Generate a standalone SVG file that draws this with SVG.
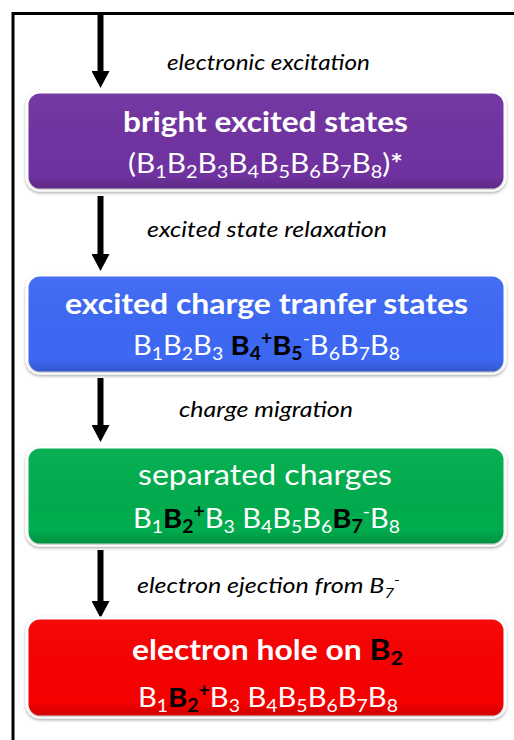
<svg xmlns="http://www.w3.org/2000/svg" width="514" height="740" viewBox="0 0 514 740">
<style>
.lbl{font-family:Lato,"Liberation Sans",sans-serif;font-style:italic;font-size:21px;fill:#000;text-anchor:middle}
.t{font-family:Lato,"Liberation Sans",sans-serif;fill:#fff;text-anchor:middle}
.tt{font-size:28px;font-weight:bold}
.tn{font-size:28px}
.l2{font-size:27px}
.b{font-weight:bold;fill:#000}
.box{stroke:#fff;stroke-width:3;filter:url(#sh)}
.conn{stroke:#000;stroke-width:6;fill:none;marker-end:url(#ah)}
</style>
<defs>
<filter id="sh" x="-5%" y="-10%" width="110%" height="130%">
<feDropShadow dx="0" dy="1.5" stdDeviation="1.5" flood-color="#000" flood-opacity="0.35"/>
</filter>
<linearGradient id="shade" x1="0" y1="0" x2="0" y2="1">
<stop offset="0" stop-color="#fff" stop-opacity="0.04"/>
<stop offset="0.85" stop-color="#000" stop-opacity="0"/>
<stop offset="1" stop-color="#000" stop-opacity="0.18"/>
</linearGradient>
<marker id="ah" markerUnits="userSpaceOnUse" markerWidth="18" markerHeight="18" refX="0" refY="9" orient="auto" viewBox="0 0 18 18">
<path d="M0,0 L17,9 L0,18 z" fill="#000"/>
</marker>
</defs>
<rect width="514" height="740" fill="#fff"/>
<g id="frame" fill="none" stroke="#000" stroke-width="3">
<path d="M13,740 V13.5 H514"/>
</g>
<g id="connectors">
<line class="conn" x1="100.5" y1="13" x2="100.5" y2="71"/>
<line class="conn" x1="100.5" y1="196" x2="100.5" y2="254"/>
<line class="conn" x1="100.5" y1="378" x2="100.5" y2="425"/>
<line class="conn" x1="100.5" y1="550" x2="100.5" y2="601"/>
<text class="lbl" x="268.5" y="70" textLength="203" lengthAdjust="spacingAndGlyphs">electronic excitation</text>
<text class="lbl" x="267" y="237" textLength="240" lengthAdjust="spacingAndGlyphs">excited state relaxation</text>
<text class="lbl" x="266" y="417" textLength="174" lengthAdjust="spacingAndGlyphs">charge migration</text>
<text class="lbl" x="268.5" y="593" textLength="263" lengthAdjust="spacingAndGlyphs">electron ejection from B<tspan font-size="14" dy="5">7</tspan><tspan font-size="14" dy="-13">-</tspan></text>
</g>
<g id="n1">
<rect class="box" x="27" y="92" width="478" height="98" rx="13" fill="#7030A0"/>
<rect x="27" y="92" width="478" height="98" rx="13" fill="url(#shade)"/>
<text class="t tt" x="265.5" y="132" textLength="285" lengthAdjust="spacingAndGlyphs">bright excited states</text>
<text class="t l2" x="265.5" y="173" textLength="275" lengthAdjust="spacingAndGlyphs">(B<tspan font-size="18" dy="5">1</tspan><tspan dy="-5">B</tspan><tspan font-size="18" dy="5">2</tspan><tspan dy="-5">B</tspan><tspan font-size="18" dy="5">3</tspan><tspan dy="-5">B</tspan><tspan font-size="18" dy="5">4</tspan><tspan dy="-5">B</tspan><tspan font-size="18" dy="5">5</tspan><tspan dy="-5">B</tspan><tspan font-size="18" dy="5">6</tspan><tspan dy="-5">B</tspan><tspan font-size="18" dy="5">7</tspan><tspan dy="-5">B</tspan><tspan font-size="18" dy="5">8</tspan><tspan dy="-5">)</tspan><tspan font-weight="bold">*</tspan></text>
</g>
<g id="n2">
<rect class="box" x="27" y="275" width="478" height="98" rx="13" fill="#3C68F3"/>
<rect x="27" y="275" width="478" height="98" rx="13" fill="url(#shade)"/>
<text class="t tt" x="266.5" y="314" textLength="403" lengthAdjust="spacingAndGlyphs">excited charge tranfer states</text>
<text class="t l2" x="266.5" y="355" textLength="267" lengthAdjust="spacingAndGlyphs">B<tspan font-size="18" dy="5">1</tspan><tspan dy="-5">B</tspan><tspan font-size="18" dy="5">2</tspan><tspan dy="-5">B</tspan><tspan font-size="18" dy="5">3</tspan><tspan dy="-5"> </tspan><tspan class="b">B</tspan><tspan class="b" font-size="18" dy="5">4</tspan><tspan class="b" font-size="18" dy="-15">+</tspan><tspan class="b" dy="10">B</tspan><tspan class="b" font-size="18" dy="5">5</tspan><tspan font-size="18" dy="-15">-</tspan><tspan dy="10">B</tspan><tspan font-size="18" dy="5">6</tspan><tspan dy="-5">B</tspan><tspan font-size="18" dy="5">7</tspan><tspan dy="-5">B</tspan><tspan font-size="18" dy="5">8</tspan></text>
</g>
<g id="n3">
<rect class="box" x="27" y="447" width="478" height="98" rx="13" fill="#00AC4E"/>
<rect x="27" y="447" width="478" height="98" rx="13" fill="url(#shade)"/>
<text class="t tn" x="265" y="485" textLength="254" lengthAdjust="spacingAndGlyphs">separated charges</text>
<text class="t l2" x="266.5" y="528" textLength="267" lengthAdjust="spacingAndGlyphs">B<tspan font-size="18" dy="5">1</tspan><tspan class="b" dy="-5">B</tspan><tspan class="b" font-size="18" dy="5">2</tspan><tspan class="b" font-size="18" dy="-15">+</tspan><tspan dy="10">B</tspan><tspan font-size="18" dy="5">3</tspan><tspan dy="-5"> B</tspan><tspan font-size="18" dy="5">4</tspan><tspan dy="-5">B</tspan><tspan font-size="18" dy="5">5</tspan><tspan dy="-5">B</tspan><tspan font-size="18" dy="5">6</tspan><tspan class="b" dy="-5">B</tspan><tspan class="b" font-size="18" dy="5">7</tspan><tspan font-size="18" dy="-15">-</tspan><tspan dy="10">B</tspan><tspan font-size="18" dy="5">8</tspan></text>
</g>
<g id="n4">
<rect class="box" x="27" y="618" width="478" height="99" rx="13" fill="#F60000"/>
<rect x="27" y="618" width="478" height="99" rx="13" fill="url(#shade)"/>
<text class="t tt" x="267.5" y="660" textLength="271" lengthAdjust="spacingAndGlyphs">electron hole on <tspan class="b">B</tspan><tspan class="b" font-size="19" dy="5">2</tspan></text>
<text class="t l2" x="268" y="707" textLength="260" lengthAdjust="spacingAndGlyphs">B<tspan font-size="18" dy="5">1</tspan><tspan class="b" dy="-5">B</tspan><tspan class="b" font-size="18" dy="5">2</tspan><tspan class="b" font-size="18" dy="-15">+</tspan><tspan dy="10">B</tspan><tspan font-size="18" dy="5">3</tspan><tspan dy="-5"> B</tspan><tspan font-size="18" dy="5">4</tspan><tspan dy="-5">B</tspan><tspan font-size="18" dy="5">5</tspan><tspan dy="-5">B</tspan><tspan font-size="18" dy="5">6</tspan><tspan dy="-5">B</tspan><tspan font-size="18" dy="5">7</tspan><tspan dy="-5">B</tspan><tspan font-size="18" dy="5">8</tspan></text>
</g>
</svg>
